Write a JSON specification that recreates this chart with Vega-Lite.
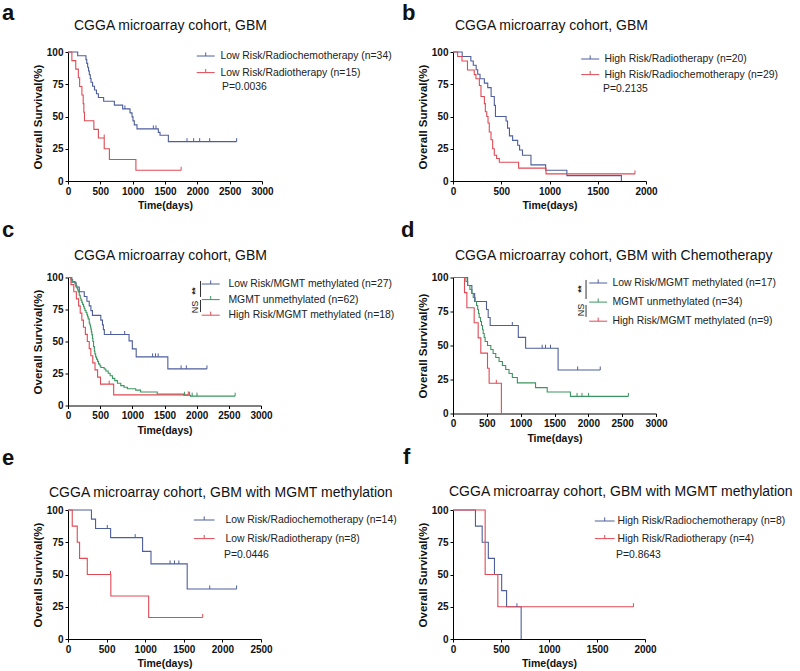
{
"$schema": "https://vega.github.io/schema/vega-lite/v6.json",
"padding": {"left": 1, "top": 2, "right": 2, "bottom": 2},
"background": "white",
"config": {
  "view": {"stroke": null},
  "font": "Liberation Sans",
  "axis": {"grid": false, "domainColor": "#000", "domainWidth": 1, "tickColor": "#000", "tickSize": 3, "tickCount": 20, "labelFont": "Liberation Sans", "labelFontWeight": "bold", "labelFontSize": 10, "labelColor": "#111", "labelPadding": 2, "labelFlush": false, "labelOverlap": false, "titleFont": "Liberation Sans", "titleFontWeight": "bold", "titleColor": "#111", "format": "d"},
  "axisX": {"titleFontSize": 10.5, "titlePadding": 4.5},
  "axisY": {"titleFontSize": 11.5, "titlePadding": 3},
  "legend": {"labelFont": "Liberation Sans", "labelFontSize": 10.4, "labelColor": "#222", "labelLimit": 400, "padding": 0},
  "title": {"font": "Liberation Sans", "fontSize": 14, "fontWeight": "normal", "anchor": "start", "frame": "group", "color": "#111", "baseline": "alphabetic"}
},
"datasets": {
  "groups": [
    {"g": "a1", "label": "Low Risk/Radiochemotherapy (n=34)"},
    {"g": "a2", "label": "Low Risk/Radiotherapy (n=15)"},
    {"g": "b1", "label": "High Risk/Radiotherapy (n=20)"},
    {"g": "b2", "label": "High Risk/Radiochemotherapy (n=29)"},
    {"g": "c1", "label": "Low Risk/MGMT methylated (n=27)"},
    {"g": "c2", "label": "MGMT unmethylated (n=62)"},
    {"g": "c3", "label": "High Risk/MGMT methylated (n=18)"},
    {"g": "d1", "label": "Low Risk/MGMT methylated (n=17)"},
    {"g": "d2", "label": "MGMT unmethylated (n=34)"},
    {"g": "d3", "label": "High Risk/MGMT methylated (n=9)"},
    {"g": "e1", "label": "Low Risk/Radiochemotherapy (n=14)"},
    {"g": "e2", "label": "Low Risk/Radiotherapy (n=8)"},
    {"g": "f1", "label": "High Risk/Radiochemotherapy (n=8)"},
    {"g": "f2", "label": "High Risk/Radiotherapy (n=4)"}
  ],
  "km": [
    {"g":"a1","t":0,"s":100},{"g":"a1","t":150,"s":97.1},{"g":"a1","t":278,"s":94.1},{"g":"a1","t":290,"s":91.2},{"g":"a1","t":304,"s":88.2},{"g":"a1","t":318,"s":85.3},{"g":"a1","t":330,"s":82.4},{"g":"a1","t":345,"s":79.4},{"g":"a1","t":356,"s":76.5},{"g":"a1","t":380,"s":73.5},{"g":"a1","t":410,"s":70.6},{"g":"a1","t":440,"s":67.6},{"g":"a1","t":470,"s":64.7},{"g":"a1","t":551,"s":61.8},{"g":"a1","t":717,"s":58.8},{"g":"a1","t":845,"s":55.9},{"g":"a1","t":959,"s":52.8},{"g":"a1","t":990,"s":49.7},{"g":"a1","t":1005,"s":46.6},{"g":"a1","t":1025,"s":43.5},{"g":"a1","t":1067,"s":40.4},{"g":"a1","t":1397,"s":37.7},{"g":"a1","t":1423,"s":35.5},{"g":"a1","t":1552,"s":30.5},{"g":"a1","t":2608,"s":30.5},
    {"g":"a2","t":0,"s":100},{"g":"a2","t":60,"s":93.3},{"g":"a2","t":120,"s":86.7},{"g":"a2","t":160,"s":80},{"g":"a2","t":180,"s":73.3},{"g":"a2","t":215,"s":66.7},{"g":"a2","t":235,"s":60},{"g":"a2","t":245,"s":53.3},{"g":"a2","t":255,"s":46.7},{"g":"a2","t":400,"s":40},{"g":"a2","t":470,"s":33.3},{"g":"a2","t":560,"s":25},{"g":"a2","t":640,"s":16.7},{"g":"a2","t":1050,"s":8.3},{"g":"a2","t":1750,"s":8.3},
    {"g":"b1","t":0,"s":100},{"g":"b1","t":95,"s":96.5},{"g":"b1","t":185,"s":93},{"g":"b1","t":210,"s":89.7},{"g":"b1","t":240,"s":86.2},{"g":"b1","t":256,"s":82.8},{"g":"b1","t":280,"s":79.3},{"g":"b1","t":325,"s":75.9},{"g":"b1","t":360,"s":72.4},{"g":"b1","t":395,"s":65.5},{"g":"b1","t":428,"s":58.6},{"g":"b1","t":440,"s":50},{"g":"b1","t":550,"s":46.5},{"g":"b1","t":565,"s":41},{"g":"b1","t":585,"s":35},{"g":"b1","t":618,"s":31.5},{"g":"b1","t":670,"s":27.7},{"g":"b1","t":690,"s":24},{"g":"b1","t":720,"s":20},{"g":"b1","t":808,"s":12.5},{"g":"b1","t":960,"s":8.3},{"g":"b1","t":1180,"s":4.2},{"g":"b1","t":1745,"s":0},
    {"g":"b2","t":0,"s":100},{"g":"b2","t":48,"s":96.5},{"g":"b2","t":93,"s":93},{"g":"b2","t":150,"s":86},{"g":"b2","t":220,"s":82.5},{"g":"b2","t":238,"s":79.3},{"g":"b2","t":273,"s":74},{"g":"b2","t":290,"s":65.5},{"g":"b2","t":325,"s":60},{"g":"b2","t":335,"s":53.7},{"g":"b2","t":350,"s":50},{"g":"b2","t":363,"s":45},{"g":"b2","t":376,"s":38},{"g":"b2","t":394,"s":32},{"g":"b2","t":411,"s":25},{"g":"b2","t":428,"s":20},{"g":"b2","t":452,"s":17.5},{"g":"b2","t":480,"s":14.5},{"g":"b2","t":680,"s":10},{"g":"b2","t":964,"s":5.5},{"g":"b2","t":1886,"s":5.5},
    {"g":"c1","t":0,"s":100},{"g":"c1","t":60,"s":96.3},{"g":"c1","t":124,"s":92.6},{"g":"c1","t":175,"s":88.9},{"g":"c1","t":253,"s":85.2},{"g":"c1","t":294,"s":81.5},{"g":"c1","t":330,"s":77.8},{"g":"c1","t":356,"s":74.1},{"g":"c1","t":380,"s":70.4},{"g":"c1","t":510,"s":66.7},{"g":"c1","t":536,"s":63},{"g":"c1","t":550,"s":59.3},{"g":"c1","t":565,"s":55.5},{"g":"c1","t":949,"s":50.5},{"g":"c1","t":1000,"s":44.2},{"g":"c1","t":1060,"s":38},{"g":"c1","t":1552,"s":28.6},{"g":"c1","t":2160,"s":28.6},
    {"g":"c2","t":0,"s":100},{"g":"c2","t":46,"s":98.4},{"g":"c2","t":72,"s":96.8},{"g":"c2","t":108,"s":95.2},{"g":"c2","t":125,"s":93.5},{"g":"c2","t":139,"s":91.9},{"g":"c2","t":150,"s":90.3},{"g":"c2","t":160,"s":88.7},{"g":"c2","t":175,"s":86.1},{"g":"c2","t":190,"s":84},{"g":"c2","t":201,"s":82.3},{"g":"c2","t":215,"s":80.6},{"g":"c2","t":227,"s":79},{"g":"c2","t":242,"s":77.4},{"g":"c2","t":252,"s":75.8},{"g":"c2","t":263,"s":74.2},{"g":"c2","t":280,"s":72.6},{"g":"c2","t":294,"s":71},{"g":"c2","t":305,"s":69.4},{"g":"c2","t":314,"s":67.7},{"g":"c2","t":330,"s":64.5},{"g":"c2","t":340,"s":62.9},{"g":"c2","t":350,"s":61.3},{"g":"c2","t":356,"s":59.7},{"g":"c2","t":363,"s":57.5},{"g":"c2","t":371,"s":55.4},{"g":"c2","t":380,"s":52.3},{"g":"c2","t":387,"s":50},{"g":"c2","t":397,"s":46},{"g":"c2","t":410,"s":42.5},{"g":"c2","t":418,"s":40.3},{"g":"c2","t":430,"s":38},{"g":"c2","t":443,"s":36.2},{"g":"c2","t":460,"s":34.5},{"g":"c2","t":474,"s":32.5},{"g":"c2","t":495,"s":31},{"g":"c2","t":510,"s":29.7},{"g":"c2","t":562,"s":28.5},{"g":"c2","t":588,"s":27},{"g":"c2","t":624,"s":25.2},{"g":"c2","t":655,"s":23.3},{"g":"c2","t":691,"s":21.2},{"g":"c2","t":727,"s":19.4},{"g":"c2","t":768,"s":17.4},{"g":"c2","t":820,"s":15.5},{"g":"c2","t":871,"s":14.2},{"g":"c2","t":923,"s":13.1},{"g":"c2","t":1052,"s":12},{"g":"c2","t":1129,"s":10.5},{"g":"c2","t":1387,"s":9},{"g":"c2","t":1799,"s":8},{"g":"c2","t":1902,"s":7.3},{"g":"c2","t":2598,"s":7.3},
    {"g":"c3","t":0,"s":100},{"g":"c3","t":46,"s":94.4},{"g":"c3","t":90,"s":88.9},{"g":"c3","t":130,"s":83.3},{"g":"c3","t":165,"s":77.8},{"g":"c3","t":190,"s":72.2},{"g":"c3","t":215,"s":66.7},{"g":"c3","t":240,"s":61.1},{"g":"c3","t":270,"s":55.6},{"g":"c3","t":300,"s":50},{"g":"c3","t":330,"s":44.4},{"g":"c3","t":355,"s":38.9},{"g":"c3","t":385,"s":33.3},{"g":"c3","t":420,"s":27.8},{"g":"c3","t":460,"s":22.2},{"g":"c3","t":505,"s":16.7},{"g":"c3","t":710,"s":8.3},{"g":"c3","t":1870,"s":8.3},
    {"g":"d1","t":0,"s":100},{"g":"d1","t":216,"s":94.1},{"g":"d1","t":279,"s":88.2},{"g":"d1","t":320,"s":82.4},{"g":"d1","t":495,"s":76.5},{"g":"d1","t":520,"s":70.6},{"g":"d1","t":549,"s":64.7},{"g":"d1","t":965,"s":56},{"g":"d1","t":1073,"s":48},{"g":"d1","t":1553,"s":32},{"g":"d1","t":2176,"s":32},
    {"g":"d2","t":0,"s":100},{"g":"d2","t":191,"s":97.1},{"g":"d2","t":216,"s":94.1},{"g":"d2","t":250,"s":91.2},{"g":"d2","t":279,"s":88.2},{"g":"d2","t":299,"s":85.3},{"g":"d2","t":328,"s":82.4},{"g":"d2","t":348,"s":79.4},{"g":"d2","t":365,"s":76.5},{"g":"d2","t":377,"s":73.5},{"g":"d2","t":387,"s":70.6},{"g":"d2","t":407,"s":67.6},{"g":"d2","t":421,"s":64.7},{"g":"d2","t":436,"s":61.8},{"g":"d2","t":446,"s":58.8},{"g":"d2","t":461,"s":55.9},{"g":"d2","t":475,"s":52.9},{"g":"d2","t":510,"s":50},{"g":"d2","t":559,"s":47.1},{"g":"d2","t":593,"s":44.1},{"g":"d2","t":632,"s":41.2},{"g":"d2","t":681,"s":38.2},{"g":"d2","t":730,"s":35.3},{"g":"d2","t":779,"s":32.4},{"g":"d2","t":828,"s":29.4},{"g":"d2","t":877,"s":26.5},{"g":"d2","t":951,"s":22.5},{"g":"d2","t":1220,"s":19},{"g":"d2","t":1392,"s":15.8},{"g":"d2","t":1735,"s":12.6},{"g":"d2","t":2592,"s":12.6},
    {"g":"d3","t":0,"s":100},{"g":"d3","t":170,"s":88.9},{"g":"d3","t":205,"s":77.8},{"g":"d3","t":313,"s":66.7},{"g":"d3","t":372,"s":55.6},{"g":"d3","t":411,"s":44.4},{"g":"d3","t":510,"s":33.3},{"g":"d3","t":534,"s":22.2},{"g":"d3","t":715,"s":0},
    {"g":"e1","t":0,"s":100},{"g":"e1","t":304,"s":92.9},{"g":"e1","t":357,"s":85.7},{"g":"e1","t":552,"s":78.6},{"g":"e1","t":966,"s":67.9},{"g":"e1","t":1075,"s":58.2},{"g":"e1","t":1544,"s":38.8},{"g":"e1","t":2184,"s":38.8},
    {"g":"e2","t":0,"s":100},{"g":"e2","t":55,"s":87.5},{"g":"e2","t":120,"s":75},{"g":"e2","t":150,"s":62.5},{"g":"e2","t":250,"s":50},{"g":"e2","t":555,"s":33.3},{"g":"e2","t":1045,"s":16.7},{"g":"e2","t":1745,"s":16.7},
    {"g":"f1","t":0,"s":100},{"g":"f1","t":234,"s":87.5},{"g":"f1","t":304,"s":75},{"g":"f1","t":368,"s":62.5},{"g":"f1","t":432,"s":50},{"g":"f1","t":507,"s":37.5},{"g":"f1","t":558,"s":25},{"g":"f1","t":710,"s":0},
    {"g":"f2","t":0,"s":100},{"g":"f2","t":335,"s":50},{"g":"f2","t":467,"s":25},{"g":"f2","t":1880,"s":25}
  ],
  "cens": [
    {"g":"a1","t":880,"s":55.9},{"g":"a1","t":1320,"s":40.4},{"g":"a1","t":1361,"s":40.4},{"g":"a1","t":1840,"s":30.5},{"g":"a1","t":1943,"s":30.5},{"g":"a1","t":2036,"s":30.5},{"g":"a1","t":2191,"s":30.5},{"g":"a1","t":2608,"s":30.5},
    {"g":"a2","t":560,"s":33.3},{"g":"a2","t":1750,"s":8.3},
    {"g":"b2","t":1886,"s":5.5},
    {"g":"c1","t":665,"s":55.5},{"g":"c1","t":881,"s":55.5},{"g":"c1","t":1315,"s":38},{"g":"c1","t":1361,"s":38},{"g":"c1","t":1402,"s":38},{"g":"c1","t":1758,"s":28.6},{"g":"c1","t":1840,"s":28.6},{"g":"c1","t":2160,"s":28.6},
    {"g":"c2","t":1810,"s":8},{"g":"c2","t":1890,"s":8},{"g":"c2","t":1930,"s":7.3},{"g":"c2","t":2005,"s":7.3},{"g":"c2","t":2598,"s":7.3},
    {"g":"c3","t":640,"s":16.7},{"g":"c3","t":1870,"s":8.3},
    {"g":"d1","t":877,"s":64.7},{"g":"d1","t":1318,"s":48},{"g":"d1","t":1367,"s":48},{"g":"d1","t":1441,"s":48},{"g":"d1","t":1842,"s":32},{"g":"d1","t":2176,"s":32},
    {"g":"d2","t":1833,"s":12.6},{"g":"d2","t":1906,"s":12.6},{"g":"d2","t":2004,"s":12.6},{"g":"d2","t":2592,"s":12.6},
    {"g":"d3","t":640,"s":22.2},
    {"g":"e1","t":509,"s":85.7},{"g":"e1","t":870,"s":78.6},{"g":"e1","t":1322,"s":58.2},{"g":"e1","t":1379,"s":58.2},{"g":"e1","t":1436,"s":58.2},{"g":"e1","t":1836,"s":38.8},{"g":"e1","t":2184,"s":38.8},
    {"g":"e2","t":550,"s":50},{"g":"e2","t":1745,"s":16.7},
    {"g":"f1","t":666,"s":25},
    {"g":"f2","t":1880,"s":25}
  ]
},
"columns": 2,
"bounds": "flush",
"spacing": {"row": 96.5, "column": 191},
"resolve": {"scale": {"x": "independent", "y": "independent", "color": "independent"}, "legend": {"color": "independent"}},
"concat": [
  {
    "width": 194, "height": 129,
    "title": {"text": "CGGA microarray cohort, GBM", "dx": 6, "offset": -30.6},
    "layer": [
      {"data": {"name": "km"}, "transform": [{"filter": "substring(datum.g,0,1)=='a'"}, {"lookup": "g", "from": {"data": {"name": "groups"}, "key": "g", "fields": ["label"]}}],
       "mark": {"type": "line", "interpolate": "step-after", "strokeWidth": 1.1},
       "encoding": {
         "x": {"field": "t", "type": "quantitative", "scale": {"domain": [0, 3000], "nice": false}, "axis": {"values": [0, 500, 1000, 1500, 2000, 2500, 3000], "tickCount": 20, "labelOverlap": false, "title": "Time(days)"}},
         "y": {"field": "s", "type": "quantitative", "scale": {"domain": [0, 100], "nice": false}, "axis": {"values": [0, 25, 50, 75, 100], "tickCount": 20, "labelOverlap": false, "title": "Overall Survival(%)"}},
         "color": {"field": "label", "type": "nominal", "scale": {"domain": ["Low Risk/Radiochemotherapy (n=34)", "Low Risk/Radiotherapy (n=15)"], "range": ["#4e5e9c", "#e04a55"]},
         "legend": {"title": null, "orient": "none", "legendX": 132.5, "legendY": -1.2, "symbolType": "M-2,0H2M0,0V-0.8", "symbolSize": 81, "symbolStrokeWidth": 1, "labelOffset": 9.5, "rowPadding": 4.6}}}},
      {"data": {"name": "cens"}, "transform": [{"filter": "substring(datum.g,0,1)=='a'"}, {"lookup": "g", "from": {"data": {"name": "groups"}, "key": "g", "fields": ["label"]}}],
       "mark": {"type": "point", "shape": "M0,0V-1", "size": 49, "filled": false, "strokeWidth": 1, "opacity": 1},
       "encoding": {"x": {"field": "t", "type": "quantitative"}, "y": {"field": "s", "type": "quantitative"}, "color": {"field": "label", "type": "nominal"}}},
      {"data": {"values": [{"label": "P=0.0036"}]}, "mark": {"type": "text", "align": "left", "baseline": "middle", "fontSize": 10.4, "color": "#222"},
       "encoding": {"x": {"datum": 2381}, "y": {"datum": 72.9}, "text": {"field": "label"}}},
      {"data": {"values": [{"label": "a"}]}, "mark": {"type": "text", "align": "left", "baseline": "alphabetic", "fontSize": 22, "fontWeight": "bold", "color": "#111"},
       "encoding": {"x": {"datum": -1021}, "y": {"datum": 124.8}, "text": {"field": "label"}}}
    ]
  },
  {
    "width": 193, "height": 129,
    "title": {"text": "CGGA microarray cohort, GBM", "dx": 2, "offset": -30.6},
    "layer": [
      {"data": {"name": "km"}, "transform": [{"filter": "substring(datum.g,0,1)=='b'"}, {"lookup": "g", "from": {"data": {"name": "groups"}, "key": "g", "fields": ["label"]}}],
       "mark": {"type": "line", "interpolate": "step-after", "strokeWidth": 1.1},
       "encoding": {
         "x": {"field": "t", "type": "quantitative", "scale": {"domain": [0, 2000], "nice": false}, "axis": {"values": [0, 500, 1000, 1500, 2000], "tickCount": 20, "labelOverlap": false, "title": "Time(days)"}},
         "y": {"field": "s", "type": "quantitative", "scale": {"domain": [0, 100], "nice": false}, "axis": {"values": [0, 25, 50, 75, 100], "tickCount": 20, "labelOverlap": false, "title": "Overall Survival(%)"}},
         "color": {"field": "label", "type": "nominal", "scale": {"domain": ["High Risk/Radiotherapy (n=20)", "High Risk/Radiochemotherapy (n=29)"], "range": ["#4e5e9c", "#e04a55"]},
         "legend": {"title": null, "orient": "none", "legendX": 132, "legendY": 1.8, "symbolType": "M-2,0H2M0,0V-0.8", "symbolSize": 81, "symbolStrokeWidth": 1, "labelOffset": 9, "rowPadding": 3.6}}}},
      {"data": {"name": "cens"}, "transform": [{"filter": "substring(datum.g,0,1)=='b'"}, {"lookup": "g", "from": {"data": {"name": "groups"}, "key": "g", "fields": ["label"]}}],
       "mark": {"type": "point", "shape": "M0,0V-1", "size": 49, "filled": false, "strokeWidth": 1, "opacity": 1},
       "encoding": {"x": {"field": "t", "type": "quantitative"}, "y": {"field": "s", "type": "quantitative"}, "color": {"field": "label", "type": "nominal"}}},
      {"data": {"values": [{"label": "P=0.2135"}]}, "mark": {"type": "text", "align": "left", "baseline": "middle", "fontSize": 10.4, "color": "#222"},
       "encoding": {"x": {"datum": 1554}, "y": {"datum": 71.3}, "text": {"field": "label"}}},
      {"data": {"values": [{"label": "b"}]}, "mark": {"type": "text", "align": "left", "baseline": "alphabetic", "fontSize": 22, "fontWeight": "bold", "color": "#111"},
       "encoding": {"x": {"datum": -528}, "y": {"datum": 124.8}, "text": {"field": "label"}}}
    ]
  },
  {
    "width": 193, "height": 128,
    "title": {"text": "CGGA microarray cohort, GBM", "dx": 6, "offset": -43.6},
    "layer": [
      {"data": {"name": "km"}, "transform": [{"filter": "substring(datum.g,0,1)=='c'"}, {"lookup": "g", "from": {"data": {"name": "groups"}, "key": "g", "fields": ["label"]}}],
       "mark": {"type": "line", "interpolate": "step-after", "strokeWidth": 1.1},
       "encoding": {
         "x": {"field": "t", "type": "quantitative", "scale": {"domain": [0, 3000], "nice": false}, "axis": {"values": [0, 500, 1000, 1500, 2000, 2500, 3000], "tickCount": 20, "labelOverlap": false, "title": "Time(days)"}},
         "y": {"field": "s", "type": "quantitative", "scale": {"domain": [0, 100], "nice": false}, "axis": {"values": [0, 25, 50, 75, 100], "tickCount": 20, "labelOverlap": false, "title": "Overall Survival(%)"}},
         "color": {"field": "label", "type": "nominal", "scale": {"domain": ["Low Risk/MGMT methylated (n=27)", "MGMT unmethylated (n=62)", "High Risk/MGMT methylated (n=18)"], "range": ["#4e5e9c", "#3b9560", "#e04a55"]},
         "legend": {"title": null, "orient": "none", "legendX": 137.5, "legendY": 1.3, "symbolType": "M-2,0H2M0,0V-0.8", "symbolSize": 81, "symbolStrokeWidth": 1, "labelOffset": 12.5, "rowPadding": 3.6}}}},
      {"data": {"name": "cens"}, "transform": [{"filter": "substring(datum.g,0,1)=='c'"}, {"lookup": "g", "from": {"data": {"name": "groups"}, "key": "g", "fields": ["label"]}}],
       "mark": {"type": "point", "shape": "M0,0V-1", "size": 49, "filled": false, "strokeWidth": 1, "opacity": 1},
       "encoding": {"x": {"field": "t", "type": "quantitative"}, "y": {"field": "s", "type": "quantitative"}, "color": {"field": "label", "type": "nominal"}}},
      {"data": {"values": [{"label": "bracket"}]}, "mark": {"type": "rule", "color": "#333", "strokeWidth": 1},
       "encoding": {"x": {"datum": 2060}, "y": {"datum": 97.3}, "y2": {"datum": 84.8}}},
      {"data": {"values": [{"label": "bracket"}]}, "mark": {"type": "rule", "color": "#333", "strokeWidth": 1},
       "encoding": {"x": {"datum": 2060}, "y": {"datum": 82.4}, "y2": {"datum": 73.0}}},
      {"data": {"values": [{"label": "**"}]}, "mark": {"type": "text", "align": "center", "baseline": "middle", "angle": 270, "fontSize": 9, "fontWeight": "bold", "color": "#222"},
       "encoding": {"x": {"datum": 1974}, "y": {"datum": 89.5}, "text": {"field": "label"}}},
      {"data": {"values": [{"label": "NS"}]}, "mark": {"type": "text", "align": "center", "baseline": "middle", "angle": 270, "fontSize": 9, "color": "#222"},
       "encoding": {"x": {"datum": 1974}, "y": {"datum": 77}, "text": {"field": "label"}}},
      {"data": {"values": [{"label": "c"}]}, "mark": {"type": "text", "align": "left", "baseline": "alphabetic", "fontSize": 22, "fontWeight": "bold", "color": "#111"},
       "encoding": {"x": {"datum": -1026}, "y": {"datum": 131.6}, "text": {"field": "label"}}}
    ]
  },
  {
    "width": 203, "height": 136,
    "title": {"text": "CGGA microarray cohort, GBM with Chemotherapy", "dx": 2, "offset": -43.6},
    "layer": [
      {"data": {"name": "km"}, "transform": [{"filter": "substring(datum.g,0,1)=='d'"}, {"lookup": "g", "from": {"data": {"name": "groups"}, "key": "g", "fields": ["label"]}}],
       "mark": {"type": "line", "interpolate": "step-after", "strokeWidth": 1.1},
       "encoding": {
         "x": {"field": "t", "type": "quantitative", "scale": {"domain": [0, 3000], "nice": false}, "axis": {"values": [0, 500, 1000, 1500, 2000, 2500, 3000], "tickCount": 20, "labelOverlap": false, "title": "Time(days)"}},
         "y": {"field": "s", "type": "quantitative", "scale": {"domain": [0, 100], "nice": false}, "axis": {"values": [0, 25, 50, 75, 100], "tickCount": 20, "labelOverlap": false, "title": "Overall Survival(%)"}},
         "color": {"field": "label", "type": "nominal", "scale": {"domain": ["Low Risk/MGMT methylated (n=17)", "MGMT unmethylated (n=34)", "High Risk/MGMT methylated (n=9)"], "range": ["#4e5e9c", "#3b9560", "#e04a55"]},
         "legend": {"title": null, "orient": "none", "legendX": 140, "legendY": 0.3, "symbolType": "M-2,0H2M0,0V-0.8", "symbolSize": 81, "symbolStrokeWidth": 1, "labelOffset": 9, "rowPadding": 7.1}}}},
      {"data": {"name": "cens"}, "transform": [{"filter": "substring(datum.g,0,1)=='d'"}, {"lookup": "g", "from": {"data": {"name": "groups"}, "key": "g", "fields": ["label"]}}],
       "mark": {"type": "point", "shape": "M0,0V-1", "size": 49, "filled": false, "strokeWidth": 1, "opacity": 1},
       "encoding": {"x": {"field": "t", "type": "quantitative"}, "y": {"field": "s", "type": "quantitative"}, "color": {"field": "label", "type": "nominal"}}},
      {"data": {"values": [{"label": "bracket"}]}, "mark": {"type": "rule", "color": "#333", "strokeWidth": 1},
       "encoding": {"x": {"datum": 1966}, "y": {"datum": 98.2}, "y2": {"datum": 84.2}}},
      {"data": {"values": [{"label": "bracket"}]}, "mark": {"type": "rule", "color": "#333", "strokeWidth": 1},
       "encoding": {"x": {"datum": 1966}, "y": {"datum": 79.8}, "y2": {"datum": 71.0}}},
      {"data": {"values": [{"label": "**"}]}, "mark": {"type": "text", "align": "center", "baseline": "middle", "angle": 270, "fontSize": 9, "fontWeight": "bold", "color": "#222"},
       "encoding": {"x": {"datum": 1892}, "y": {"datum": 91.5}, "text": {"field": "label"}}},
      {"data": {"values": [{"label": "NS"}]}, "mark": {"type": "text", "align": "center", "baseline": "middle", "angle": 270, "fontSize": 9, "color": "#222"},
       "encoding": {"x": {"datum": 1892}, "y": {"datum": 76.1}, "text": {"field": "label"}}},
      {"data": {"values": [{"label": "d"}]}, "mark": {"type": "text", "align": "left", "baseline": "alphabetic", "fontSize": 22, "fontWeight": "bold", "color": "#111"},
       "encoding": {"x": {"datum": -768}, "y": {"datum": 129.8}, "text": {"field": "label"}}}
    ]
  },
  {
    "width": 193, "height": 129,
    "title": {"text": "CGGA microarray cohort, GBM with MGMT methylation", "dx": -19, "offset": -52.6},
    "layer": [
      {"data": {"name": "km"}, "transform": [{"filter": "substring(datum.g,0,1)=='e'"}, {"lookup": "g", "from": {"data": {"name": "groups"}, "key": "g", "fields": ["label"]}}],
       "mark": {"type": "line", "interpolate": "step-after", "strokeWidth": 1.1},
       "encoding": {
         "x": {"field": "t", "type": "quantitative", "scale": {"domain": [0, 2500], "nice": false}, "axis": {"values": [0, 500, 1000, 1500, 2000, 2500], "tickCount": 20, "labelOverlap": false, "title": "Time(days)"}},
         "y": {"field": "s", "type": "quantitative", "scale": {"domain": [0, 100], "nice": false}, "axis": {"values": [0, 25, 50, 75, 100], "tickCount": 20, "labelOverlap": false, "title": "Overall Survival(%)"}},
         "color": {"field": "label", "type": "nominal", "scale": {"domain": ["Low Risk/Radiochemotherapy (n=14)", "Low Risk/Radiotherapy (n=8)"], "range": ["#4e5e9c", "#e04a55"]},
         "legend": {"title": null, "orient": "none", "legendX": 131, "legendY": 4.8, "symbolType": "M-2.3,0H2.3M0,0V-0.8", "symbolSize": 81, "symbolStrokeWidth": 1, "labelOffset": 16, "rowPadding": 6.6}}}},
      {"data": {"name": "cens"}, "transform": [{"filter": "substring(datum.g,0,1)=='e'"}, {"lookup": "g", "from": {"data": {"name": "groups"}, "key": "g", "fields": ["label"]}}],
       "mark": {"type": "point", "shape": "M0,0V-1", "size": 49, "filled": false, "strokeWidth": 1, "opacity": 1},
       "encoding": {"x": {"field": "t", "type": "quantitative"}, "y": {"field": "s", "type": "quantitative"}, "color": {"field": "label", "type": "nominal"}}},
      {"data": {"values": [{"label": "P=0.0446"}]}, "mark": {"type": "text", "align": "left", "baseline": "middle", "fontSize": 10.4, "color": "#222"},
       "encoding": {"x": {"datum": 2021}, "y": {"datum": 65.1}, "text": {"field": "label"}}},
      {"data": {"values": [{"label": "e"}]}, "mark": {"type": "text", "align": "left", "baseline": "alphabetic", "fontSize": 22, "fontWeight": "bold", "color": "#111"},
       "encoding": {"x": {"datum": -855}, "y": {"datum": 134.9}, "text": {"field": "label"}}}
    ]
  },
  {
    "width": 192, "height": 129,
    "title": {"text": "CGGA microarray cohort, GBM with MGMT methylation", "dx": -4, "offset": -52.6},
    "layer": [
      {"data": {"name": "km"}, "transform": [{"filter": "substring(datum.g,0,1)=='f'"}, {"lookup": "g", "from": {"data": {"name": "groups"}, "key": "g", "fields": ["label"]}}],
       "mark": {"type": "line", "interpolate": "step-after", "strokeWidth": 1.1},
       "encoding": {
         "x": {"field": "t", "type": "quantitative", "scale": {"domain": [0, 2000], "nice": false}, "axis": {"values": [0, 500, 1000, 1500, 2000], "tickCount": 20, "labelOverlap": false, "title": "Time(days)"}},
         "y": {"field": "s", "type": "quantitative", "scale": {"domain": [0, 100], "nice": false}, "axis": {"values": [0, 25, 50, 75, 100], "tickCount": 20, "labelOverlap": false, "title": "Overall Survival(%)"}},
         "color": {"field": "label", "type": "nominal", "scale": {"domain": ["High Risk/Radiochemotherapy (n=8)", "High Risk/Radiotherapy (n=4)"], "range": ["#4e5e9c", "#e04a55"]},
         "legend": {"title": null, "orient": "none", "legendX": 146.5, "legendY": 5.8, "symbolType": "M-2.2,0H2.2M0,0V-0.8", "symbolSize": 81, "symbolStrokeWidth": 1, "labelOffset": 7.5, "rowPadding": 5.6}}}},
      {"data": {"name": "cens"}, "transform": [{"filter": "substring(datum.g,0,1)=='f'"}, {"lookup": "g", "from": {"data": {"name": "groups"}, "key": "g", "fields": ["label"]}}],
       "mark": {"type": "point", "shape": "M0,0V-1", "size": 49, "filled": false, "strokeWidth": 1, "opacity": 1},
       "encoding": {"x": {"field": "t", "type": "quantitative"}, "y": {"field": "s", "type": "quantitative"}, "color": {"field": "label", "type": "nominal"}}},
      {"data": {"values": [{"label": "P=0.8643"}]}, "mark": {"type": "text", "align": "left", "baseline": "middle", "fontSize": 10.4, "color": "#222"},
       "encoding": {"x": {"datum": 1698}, "y": {"datum": 65.1}, "text": {"field": "label"}}},
      {"data": {"values": [{"label": "f"}]}, "mark": {"type": "text", "align": "left", "baseline": "alphabetic", "fontSize": 22, "fontWeight": "bold", "color": "#111"},
       "encoding": {"x": {"datum": -521}, "y": {"datum": 135.7}, "text": {"field": "label"}}}
    ]
  }
]
}
